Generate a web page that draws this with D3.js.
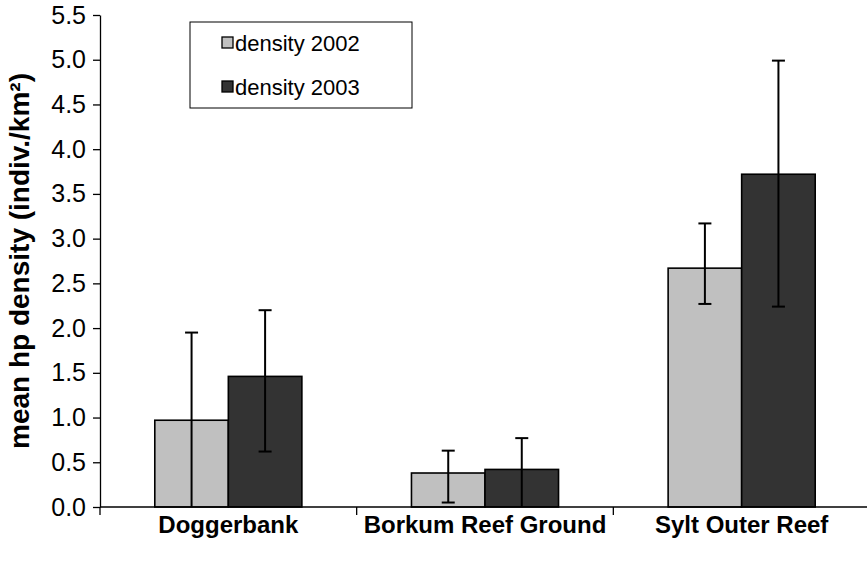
<!DOCTYPE html>
<html>
<head>
<meta charset="utf-8">
<script src="https://cdn.jsdelivr.net/npm/d3@7"></script>
<style>
  body { margin: 0; background: #fff; }
  text { font-family: Arial, "Liberation Sans", sans-serif; }
</style>
</head>
<body>
<div id="chart"></div>
<script>
// data
var areas = ["Doggerbank", "Borkum Reef Ground", "Sylt Outer Reef"];
var years = ["density 2002", "density 2003"];
var mean2002 = [0.97, 0.38, 2.67];
var mean2003 = [1.46, 0.42, 3.72];
var low2002 = [0.0, 0.05, 2.27];
var high2002 = [1.95, 0.63, 3.17];
var low2003 = [0.62, 0.0, 2.24];
var high2003 = [2.20, 0.77, 4.99];
var yTicks = [0, 0.5, 1, 1.5, 2, 2.5, 3, 3.5, 4, 4.5, 5, 5.5];

var colors = ["#c0c0c0", "#333333"];

var margin = {top: 15, right: 0, bottom: 62, left: 100},
    width = 870 - margin.left,
    height = 569 - margin.top - margin.bottom;

var svg = d3.select("#chart").append("svg")
    .attr("width", 867)
    .attr("height", 569)
    .append("g")
    .attr("transform", "translate(" + margin.left + "," + margin.top + ")");

var x0 = d3.scaleBand()
    .domain(areas)
    .range([0, width])
    .paddingInner(0.427)
    .paddingOuter(0.2135);

var x1 = d3.scaleBand()
    .domain(years)
    .range([0, x0.bandwidth()]);

var y = d3.scaleLinear().domain([0, 5.5]).range([height, 0]);

// build rows from the arrays
var rows = areas.map(function (a, i) {
    return {
        area: a,
        vals: [
            {year: years[0], v: mean2002[i], lo: low2002[i], hi: high2002[i], c: colors[0]},
            {year: years[1], v: mean2003[i], lo: low2003[i], hi: high2003[i], c: colors[1]}
        ]
    };
});

var groups = svg.selectAll(".grp")
    .data(rows)
    .enter().append("g")
    .attr("class", "grp")
    .attr("transform", function (d) { return "translate(" + x0(d.area) + ",0)"; });

groups.selectAll("rect")
    .data(function (d) { return d.vals; })
    .enter().append("rect")
    .attr("x", function (d) { return x1(d.year); })
    .attr("y", function (d) { return y(d.v); })
    .attr("width", x1.bandwidth())
    .attr("height", function (d) { return height - y(d.v); })
    .style("fill", function (d) { return d.c; })
    .style("stroke", "#000")
    .style("stroke-width", 1.6);

// error bars
var cap = 6.5;
var err = groups.selectAll(".err")
    .data(function (d) { return d.vals; })
    .enter().append("g")
    .attr("class", "err")
    .attr("transform", function (d) { return "translate(" + (x1(d.year) + x1.bandwidth() / 2) + ",0)"; })
    .style("stroke", "#000")
    .style("stroke-width", 2);

err.append("line")
    .attr("x1", 0).attr("x2", 0)
    .attr("y1", function (d) { return y(d.hi); })
    .attr("y2", function (d) { return y(d.lo); });
err.append("line")
    .attr("x1", -cap).attr("x2", cap)
    .attr("y1", function (d) { return y(d.hi); })
    .attr("y2", function (d) { return y(d.hi); });
err.filter(function (d) { return d.lo > 0; }).append("line")
    .attr("x1", -cap).attr("x2", cap)
    .attr("y1", function (d) { return y(d.lo); })
    .attr("y2", function (d) { return y(d.lo); });

// y axis
var yAxis = svg.append("g")
    .attr("class", "y axis")
    .call(d3.axisLeft(y).tickValues(yTicks).tickFormat(d3.format(".1f")).tickSizeInner(7).tickSizeOuter(0));
yAxis.select(".domain").style("stroke", "#000").style("stroke-width", 1.3);
yAxis.selectAll(".tick line").style("stroke", "#000").style("stroke-width", 1.3);
yAxis.selectAll(".tick text")
    .attr("x", -14)
    .style("font-size", "25px")
    .style("fill", "#000");

// x axis: ticks on the category boundaries
var xg = svg.append("g")
    .attr("transform", "translate(0," + height + ")");
xg.append("line")
    .attr("x1", 0).attr("x2", width)
    .style("stroke", "#000").style("stroke-width", 1.3);
xg.selectAll(".xt")
    .data(areas)
    .enter().append("line")
    .attr("x1", function (d) { return x0(d) - x0.step() * x0.paddingOuter(); })
    .attr("x2", function (d) { return x0(d) - x0.step() * x0.paddingOuter(); })
    .attr("y1", 0).attr("y2", 8)
    .style("stroke", "#000").style("stroke-width", 1.3);
xg.selectAll(".xl")
    .data(areas)
    .enter().append("text")
    .attr("x", function (d) { return x0(d) + x0.bandwidth() / 2; })
    .attr("y", 26)
    .attr("text-anchor", "middle")
    .style("font-size", "24px")
    .style("font-weight", "bold")
    .text(function (d) { return d; });

// y axis title
svg.append("text")
    .attr("transform", "translate(-71," + (height / 2) + ") rotate(-90)")
    .attr("text-anchor", "middle")
    .style("font-size", "28px")
    .style("font-weight", "bold")
    .text("mean hp density (indiv./km²)");

// legend
var legend = svg.append("g").attr("transform", "translate(90,7)");
legend.append("rect")
    .attr("width", 222).attr("height", 86)
    .style("fill", "#fff").style("stroke", "#000").style("stroke-width", 1);
var li = legend.selectAll(".li")
    .data(years)
    .enter().append("g")
    .attr("transform", function (d, i) { return "translate(32," + (21 + i * 44) + ")"; });
li.append("rect")
    .attr("y", -6)
    .attr("width", 11).attr("height", 11)
    .style("fill", function (d, i) { return colors[i]; })
    .style("stroke", "#000").style("stroke-width", 1.3);
li.append("text")
    .attr("x", 13).attr("y", 8)
    .style("font-size", "22px")
    .text(function (d) { return d; });
</script>
</body>
</html>
